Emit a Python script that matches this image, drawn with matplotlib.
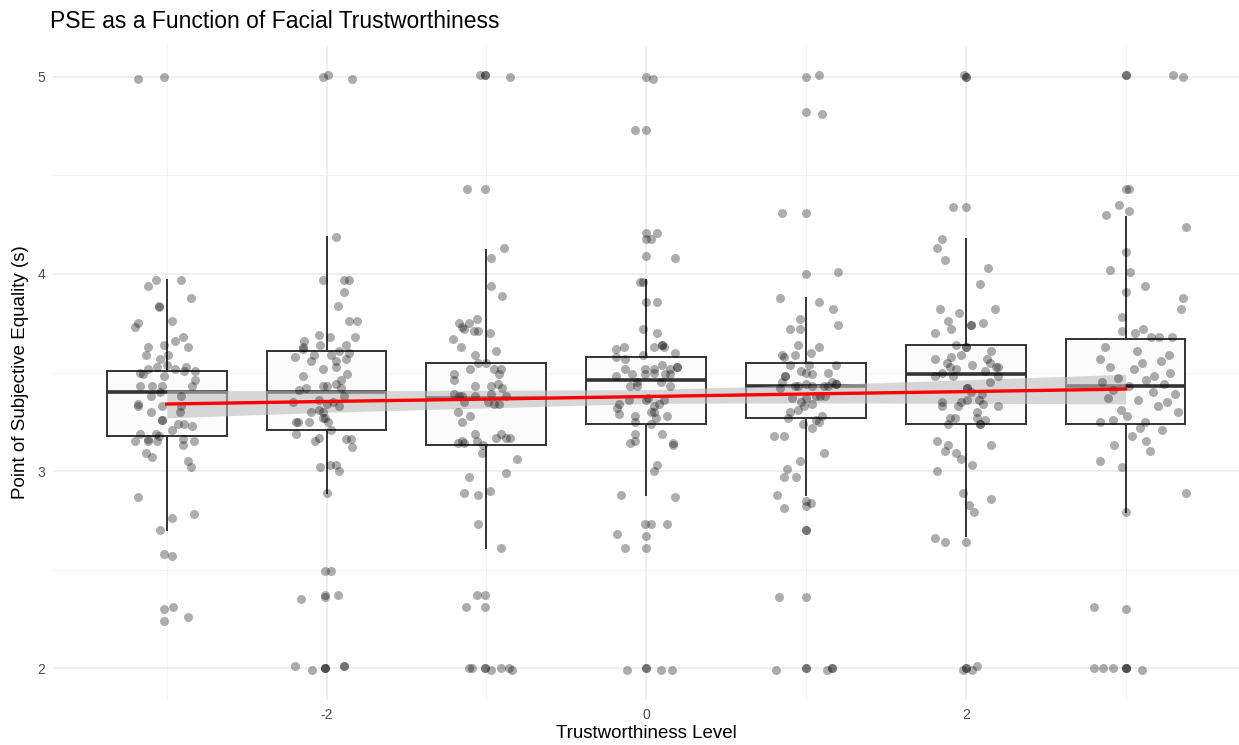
import numpy as np
import matplotlib.pyplot as plt
from matplotlib.ticker import FixedLocator

plt.rcParams['font.family'] = ['Liberation Sans', 'DejaVu Sans']
plt.rcParams['axes.unicode_minus'] = False

levels = [-3, -2, -1, 0, 1, 2, 3]

# jittered points per level: horizontal jitter and PSE value (s)
jit_m3 = [-0.18, -0.02, -0.07, 0.09, -0.12, 0.15, -0.05, -0.05, 0.03, -0.18, -0.2, 0.10, 0.05, -0.02, -0.12, 0.13,
          -0.13, 0.01, -0.04, 0, -0.06, -0.12, 0.05, 0.12, 0.11, 0.18, -0.17, -0.15, -0.02, 0.18, -0.17, -0.09,
          -0.03, 0.16, -0.04, -0.10, 0.09, -0.18, -0.18, -0.03, 0.09, -0.10, 0.08, -0.03, -0.03, 0.11, 0.07, 0.16,
          0.03, -0.17, -0.07, -0.05, -0.12, -0.2, -0.12, -0.06, 0.10, 0.17, 0.10, -0.13, -0.09, 0.13, 0.15, -0.18,
          0.03, 0.17, -0.04, -0.02, 0.03, -0.02, 0.04, -0.02, 0.13]
pse_m3 = [4.99, 5.0, 3.97, 3.97, 3.94, 3.88, 3.84, 3.83, 3.76, 3.75, 3.73, 3.68, 3.66, 3.64, 3.63, 3.63,
          3.59, 3.59, 3.57, 3.54, 3.53, 3.52, 3.52, 3.53, 3.51, 3.51, 3.50, 3.49, 3.48, 3.46, 3.43, 3.43,
          3.43, 3.43, 3.40, 3.38, 3.38, 3.34, 3.33, 3.33, 3.33, 3.30, 3.30, 3.26, 3.26, 3.24, 3.24, 3.23,
          3.21, 3.19, 3.19, 3.18, 3.16, 3.15, 3.15, 3.15, 3.16, 3.15, 3.13, 3.09, 3.07, 3.05, 3.02, 2.87,
          2.76, 2.78, 2.70, 2.58, 2.57, 2.30, 2.31, 2.24, 2.26]

jit_m2 = [-0.02, 0.01, 0.16, 0.06, -0.02, 0.11, 0.14, 0.11, 0.07, 0.14, 0.19, -0.05, 0.02, 0.18, -0.14, -0.15,
          -0.04, 0.12, -0.15, 0.08, 0.14, -0.20, -0.08, 0.03, 0.12, -0.10, 0.06, -0.02, 0.06, 0.13, -0.15, 0.09,
          -0.17, -0.13, -0.02, 0, 0.06, 0.09, 0.11, -0.21, -0.05, 0, 0.04, 0.08, -0.10, -0.05, -0.02, -0.02,
          -0.01, 0.01, -0.19, -0.18, -0.11, 0.03, -0.19, -0.07, -0.05, 0.12, 0.15, 0.16, -0.04, 0.02, 0.06, 0.08,
          0, -0.01, 0.03, -0.16, -0.01, -0.01, 0.07, -0.20, -0.09, -0.01, -0.01, -0.01, 0.11, 0.11]
pse_m2 = [5.0, 5.01, 4.99, 4.19, 3.97, 3.97, 3.97, 3.91, 3.84, 3.76, 3.76, 3.69, 3.68, 3.68, 3.66, 3.63,
          3.64, 3.64, 3.62, 3.61, 3.60, 3.58, 3.59, 3.59, 3.57, 3.56, 3.56, 3.52, 3.53, 3.49, 3.48, 3.46,
          3.41, 3.42, 3.43, 3.43, 3.44, 3.42, 3.38, 3.35, 3.36, 3.34, 3.35, 3.33, 3.30, 3.31, 3.30, 3.27,
          3.27, 3.25, 3.25, 3.25, 3.25, 3.21, 3.19, 3.15, 3.17, 3.16, 3.16, 3.12, 3.02, 3.03, 3.03, 3.0,
          2.89, 2.49, 2.49, 2.35, 2.37, 2.36, 2.37, 2.01, 1.99, 2.0, 2.0, 2.0, 2.01, 2.01]

jit_m1 = [-0.04, -0.01, -0.01, 0.15, -0.12, -0.01, 0.11, 0.03, 0.03, 0.10, -0.06, -0.17, -0.11, -0.15, -0.14, -0.08,
          -0.05, 0.02, -0.21, -0.16, 0.06, -0.07, -0.05, 0, -0.10, 0.05, 0.09, 0.08, -0.20, -0.20, -0.07, 0.03,
          0.07, 0.10, -0.20, -0.17, -0.15, -0.14, -0.07, 0.01, 0.03, 0.05, 0.08, 0.12, -0.18, -0.10, -0.15, -0.07,
          0.06, 0.09, 0.12, 0.15, -0.18, -0.15, -0.14, -0.06, -0.02, -0.03, 0.19, 0.12, -0.11, -0.14, -0.05, 0.02,
          -0.05, 0.09, -0.06, -0.01, -0.13, -0.01, -0.11, -0.09, -0.01, -0.01, 0.03, 0.09, 0.14, 0.16]
pse_m1 = [5.01, 5.01, 5.01, 5.0, 4.43, 4.43, 4.13, 4.08, 3.94, 3.89, 3.77, 3.75, 3.75, 3.73, 3.72, 3.71,
          3.71, 3.70, 3.67, 3.63, 3.61, 3.59, 3.55, 3.55, 3.52, 3.52, 3.52, 3.49, 3.49, 3.46, 3.43, 3.43,
          3.44, 3.42, 3.39, 3.38, 3.38, 3.35, 3.38, 3.35, 3.39, 3.34, 3.34, 3.38, 3.30, 3.28, 3.25, 3.19,
          3.17, 3.19, 3.17, 3.17, 3.14, 3.15, 3.14, 3.15, 3.13, 3.09, 3.06, 2.99, 2.97, 2.89, 2.88, 2.90,
          2.73, 2.61, 2.37, 2.37, 2.31, 2.31, 2.0, 2.0, 2.0, 2.0, 1.99, 2.0, 2.0, 1.99]

jit_0 = [0, 0.04, -0.07, 0, 0, 0.07, 0, 0.03, 0, 0.18, -0.04, -0.02, 0, 0.07, -0.02, 0.07,
         -0.19, -0.14, 0.05, 0.10, 0.10, 0.11, 0.18, -0.19, -0.13, -0.02, 0.10, -0.13, -0.01, 0.05, 0.15, 0.19,
         0.19, -0.09, -0.01, 0.05, -0.19, 0.12, 0.15, -0.06, 0.09, -0.10, -0.06, 0.15, -0.11, -0.17, -0.18, 0,
         0.01, 0.05, 0.08, 0.11, -0.17, -0.07, 0.03, 0.05, 0.06, 0.13, -0.07, 0.03, -0.07, 0.10, -0.10, -0.07,
         0.17, 0.17, 0.07, 0.05, -0.16, 0.18, -0.01, 0.03, 0.13, -0.18, 0, -0.13, 0, -0.12, 0, 0, 0.09, 0.16]
pse_0 = [5.0, 4.99, 4.73, 4.73, 4.21, 4.21, 4.18, 4.18, 4.09, 4.08, 3.96, 3.96, 3.86, 3.86, 3.72, 3.70,
         3.62, 3.63, 3.63, 3.64, 3.64, 3.63, 3.60, 3.58, 3.57, 3.59, 3.54, 3.52, 3.52, 3.52, 3.52, 3.53,
         3.53, 3.49, 3.49, 3.50, 3.48, 3.49, 3.49, 3.45, 3.45, 3.43, 3.43, 3.43, 3.36, 3.34, 3.32, 3.36,
         3.37, 3.33, 3.34, 3.36, 3.29, 3.28, 3.30, 3.30, 3.27, 3.28, 3.25, 3.24, 3.19, 3.19, 3.14, 3.15,
         3.14, 3.13, 3.03, 3.0, 2.88, 2.87, 2.73, 2.73, 2.73, 2.68, 2.67, 2.61, 2.61, 1.99, 2.0, 2.0, 1.99, 1.99]

jit_p1 = [0, 0.08, 0, 0.10, -0.15, 0, 0, 0.20, -0.16, 0.08, 0.17, -0.04, -0.10, -0.04, 0.20, -0.05,
          0.08, -0.15, -0.14, -0.07, 0.03, -0.10, 0.02, 0.19, -0.03, 0, 0.04, 0.14, -0.13, -0.13, -0.15, 0.16,
          0.19, 0.19, -0.07, 0, 0.04, 0.11, -0.05, 0.14, -0.16, -0.09, -0.03, 0, 0.04, 0.06, 0.09, 0.12,
          -0.01, -0.05, -0.10, -0.11, 0.10, 0.06, 0.08, -0.02, 0.04, -0.20, -0.14, 0.11, -0.04, -0.12, -0.14, -0.06,
          -0.18, 0, 0.03, 0, -0.14, 0, 0, -0.17, 0, -0.19, 0, 0, 0.13, 0.16, 0.16]
pse_p1 = [5.0, 5.01, 4.82, 4.81, 4.31, 4.31, 4.0, 4.01, 3.88, 3.86, 3.82, 3.77, 3.72, 3.72, 3.74, 3.64,
          3.63, 3.59, 3.58, 3.59, 3.60, 3.54, 3.54, 3.54, 3.51, 3.50, 3.49, 3.50, 3.48, 3.48, 3.45, 3.45,
          3.44, 3.44, 3.43, 3.44, 3.43, 3.43, 3.43, 3.43, 3.42, 3.37, 3.35, 3.37, 3.34, 3.38, 3.38, 3.38,
          3.33, 3.31, 3.30, 3.27, 3.28, 3.26, 3.25, 3.24, 3.22, 3.18, 3.18, 3.09, 3.05, 3.01, 2.97, 2.97,
          2.88, 2.85, 2.84, 2.82, 2.81, 2.70, 2.70, 2.36, 2.36, 1.99, 2.0, 2.0, 1.99, 2.0, 2.0]

jit_p2 = [-0.01, 0, 0, -0.08, 0, -0.15, -0.18, -0.13, 0.14, 0.09, -0.16, -0.04, 0.18, -0.11, -0.09, 0.03,
          0.03, 0.11, -0.19, -0.06, 0, 0, 0.16, -0.09, -0.03, -0.19, 0.13, -0.12, 0.04, 0.15, -0.10, -0.06,
          0.19, 0.20, 0.12, -0.15, -0.19, -0.08, 0.20, 0.15, 0.01, 0.01, 0.03, 0.10, 0.08, 0.01, -0.03, -0.05,
          -0.15, -0.15, 0.11, 0.20, 0.07, -0.10, -0.07, 0.07, 0.12, -0.11, 0.09, 0.09, -0.18, -0.11, 0.16, -0.13,
          -0.06, -0.03, 0.04, -0.18, -0.02, 0.16, 0.02, 0.05, -0.19, -0.13, 0, -0.02, 0, 0, 0.04, 0.07]
pse_p2 = [5.01, 5.0, 5.0, 4.34, 4.34, 4.18, 4.13, 4.07, 4.03, 3.95, 3.82, 3.80, 3.82, 3.76, 3.72, 3.74,
          3.74, 3.75, 3.70, 3.64, 3.63, 3.63, 3.61, 3.58, 3.59, 3.57, 3.57, 3.55, 3.54, 3.55, 3.53, 3.52,
          3.53, 3.53, 3.51, 3.50, 3.48, 3.48, 3.48, 3.45, 3.42, 3.42, 3.40, 3.39, 3.36, 3.36, 3.35, 3.33,
          3.35, 3.33, 3.34, 3.33, 3.30, 3.27, 3.27, 3.27, 3.26, 3.24, 3.24, 3.24, 3.15, 3.13, 3.13, 3.10,
          3.09, 3.06, 3.03, 3.0, 2.89, 2.86, 2.83, 2.79, 2.66, 2.64, 2.64, 1.99, 2.0, 2.0, 1.99, 2.01]

jit_p3 = [0, 0, 0.30, 0.36, 0, 0.02, -0.04, 0.02, -0.12, 0.38, 0, -0.10, 0.03, 0.12, 0, 0.36,
          0.35, -0.02, 0.11, -0.02, 0.06, 0.21, 0.16, 0.29, -0.13, 0.07, 0.27, -0.16, 0.22, 0.10, -0.10, 0.05,
          0.28, 0.18, -0.05, 0.13, -0.15, 0.24, 0.02, -0.08, 0.17, 0.31, -0.11, 0.08, 0.26, 0.20, -0.03, 0.33,
          0.01, -0.08, 0.12, -0.16, 0.09, 0.23, 0.04, 0.13, -0.07, 0.15, -0.16, -0.02, 0.38, 0, 0.0, -0.20,
          0, -0.20, -0.14, -0.08, 0, 0, 0.10]
pse_p3 = [5.01, 5.01, 5.01, 5.0, 4.43, 4.43, 4.35, 4.32, 4.30, 4.24, 4.11, 4.02, 4.01, 3.94, 3.91, 3.88,
          3.82, 3.78, 3.72, 3.71, 3.70, 3.68, 3.68, 3.68, 3.63, 3.61, 3.59, 3.57, 3.56, 3.55, 3.53, 3.52,
          3.50, 3.48, 3.47, 3.46, 3.45, 3.44, 3.43, 3.41, 3.40, 3.39, 3.37, 3.36, 3.35, 3.33, 3.31, 3.30,
          3.28, 3.26, 3.25, 3.25, 3.22, 3.21, 3.18, 3.15, 3.13, 3.10, 3.05, 3.02, 2.89, 2.79, 2.30, 2.31,
          2.0, 2.0, 2.0, 2.0, 2.0, 2.0, 1.99]

jitters = [jit_m3, jit_m2, jit_m1, jit_0, jit_p1, jit_p2, jit_p3]
pses = [pse_m3, pse_m2, pse_m1, pse_0, pse_p1, pse_p2, pse_p3]

# boxplot summaries per level
q1 = [3.18, 3.21, 3.13, 3.24, 3.27, 3.24, 3.24]
med = [3.40, 3.40, 3.37, 3.46, 3.43, 3.49, 3.43]
q3 = [3.51, 3.61, 3.55, 3.58, 3.55, 3.64, 3.67]
whis_lo = [2.70, 2.89, 2.61, 2.88, 2.88, 2.67, 2.79]
whis_hi = [3.97, 4.19, 4.12, 3.97, 3.88, 4.18, 4.29]

# linear fit and its confidence band
fit_x = [-3, -2, -1, 0, 1, 2, 3]
fit_y = [3.340, 3.353, 3.365, 3.378, 3.391, 3.403, 3.416]
fit_se = [0.070, 0.055, 0.045, 0.035, 0.045, 0.060, 0.075]

fig = plt.figure(figsize=(12.39, 7.45), dpi=100)
ax = fig.add_axes([0.043, 0.061, 0.957, 0.878])

stats = [dict(med=m, q1=a, q3=b, whislo=lo, whishi=hi, fliers=[])
         for m, a, b, lo, hi in zip(med, q1, q3, whis_lo, whis_hi)]
ax.bxp(stats, positions=levels, widths=0.75, showfliers=False, showcaps=False,
       patch_artist=True, manage_ticks=False,
       boxprops=dict(facecolor='#FBFBFB', edgecolor='#333333', linewidth=1.4),
       medianprops=dict(color='#333333', linewidth=2.6),
       whiskerprops=dict(color='#333333', linewidth=1.4),
       zorder=2)

fx = np.array(fit_x)
fy = np.array(fit_y)
fse = np.array(fit_se)
ax.fill_between(fx, fy - fse, fy + fse, color='#BDBDBD', alpha=0.6, lw=0, zorder=3)

for lvl, jit, pse in zip(levels, jitters, pses):
    ax.scatter(lvl + np.array(jit), pse, s=42, color='black', alpha=0.32, lw=0, zorder=4)

ax.plot(fx, fy, color='#FF0000', lw=2.4, zorder=5)

ax.set_xlim(-3.71, 3.71)
ax.set_ylim(1.84, 5.16)
ax.set_xticks([-2, 0, 2])
ax.set_yticks([2, 3, 4, 5])
ax.xaxis.set_minor_locator(FixedLocator([-3, -1, 1, 3]))
ax.yaxis.set_minor_locator(FixedLocator([2.5, 3.5, 4.5]))
ax.grid(which='major', color='#EBEBEB', lw=1.1, zorder=0)
ax.grid(which='minor', color='#F2F2F2', lw=0.6, zorder=0)
ax.set_axisbelow(True)
for s in ax.spines.values():
    s.set_visible(False)
ax.tick_params(which='both', length=0, labelsize=10, labelcolor='#4D4D4D', pad=6)

ax.set_xlabel('Trustworthiness Level', fontsize=13.5, labelpad=2)
ax.set_ylabel('Point of Subjective Equality (s)', fontsize=13.5, labelpad=6)
fig.text(0.040, 1 - 22 / 745, 'PSE as a Function of Facial Trustworthiness', fontsize=16.5,
         ha='left', va='center')

fig.savefig('out.png', dpi=100)
